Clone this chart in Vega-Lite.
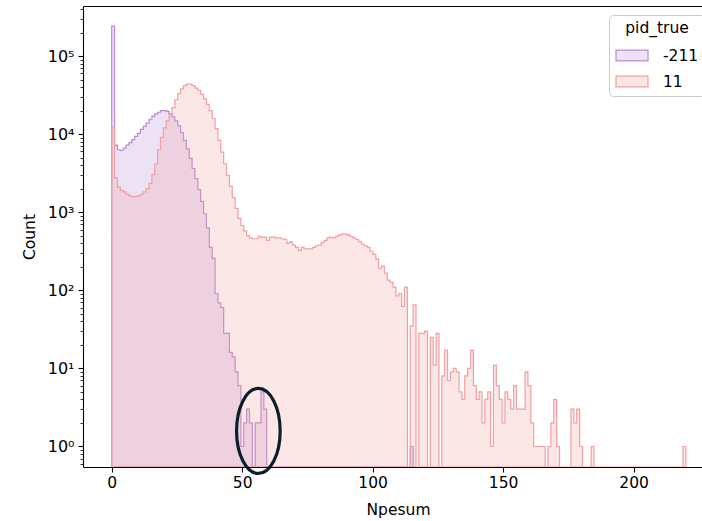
{
  "$schema": "https://vega.github.io/schema/vega-lite/v6.json",
  "width": 619,
  "height": 461,
  "autosize": {"type": "none"},
  "padding": {"left": 83, "top": 6, "right": 0, "bottom": 54},
  "background": "white",
  "config": {
    "font": "DejaVu Sans",
    "view": {"stroke": null}
  },
  "datasets": {
    "hist": [
      {"g":"-211","x":0,"n":241000},{"g":"-211","x":1.1,"n":7240},{"g":"-211","x":2.2,"n":6310},{"g":"-211","x":3.3,"n":6170},{"g":"-211","x":4.4,"n":6610},{"g":"-211","x":5.5,"n":7240},{"g":"-211","x":6.6,"n":7760},{"g":"-211","x":7.7,"n":8510},{"g":"-211","x":8.8,"n":9330},{"g":"-211","x":9.9,"n":10230},
      {"g":"-211","x":11,"n":11480},{"g":"-211","x":12.1,"n":12590},{"g":"-211","x":13.2,"n":13800},{"g":"-211","x":14.3,"n":15490},{"g":"-211","x":15.4,"n":16980},{"g":"-211","x":16.5,"n":18200},{"g":"-211","x":17.6,"n":19050},{"g":"-211","x":18.7,"n":19950},{"g":"-211","x":19.8,"n":19950},{"g":"-211","x":20.9,"n":19500},
      {"g":"-211","x":22,"n":18200},{"g":"-211","x":23.1,"n":16600},{"g":"-211","x":24.2,"n":14790},{"g":"-211","x":25.3,"n":12880},{"g":"-211","x":26.4,"n":10470},{"g":"-211","x":27.5,"n":8320},{"g":"-211","x":28.6,"n":6460},{"g":"-211","x":29.7,"n":4900},{"g":"-211","x":30.8,"n":3630},{"g":"-211","x":31.9,"n":2690},
      {"g":"-211","x":33,"n":1950},{"g":"-211","x":34.1,"n":1380},{"g":"-211","x":35.2,"n":955},{"g":"-211","x":36.3,"n":631},{"g":"-211","x":37.4,"n":355},{"g":"-211","x":38.5,"n":257},{"g":"-211","x":39.6,"n":91},{"g":"-211","x":40.7,"n":69},{"g":"-211","x":41.8,"n":60},{"g":"-211","x":42.9,"n":28},
      {"g":"-211","x":44,"n":28},{"g":"-211","x":45.1,"n":16},{"g":"-211","x":46.2,"n":14},{"g":"-211","x":47.3,"n":9},{"g":"-211","x":48.4,"n":6},{"g":"-211","x":49.5,"n":1},{"g":"-211","x":50.6,"n":2},{"g":"-211","x":51.7,"n":3},{"g":"-211","x":52.8,"n":2},{"g":"-211","x":53.9,"n":0},
      {"g":"-211","x":55,"n":2},{"g":"-211","x":56.1,"n":2},{"g":"-211","x":57.2,"n":5},{"g":"-211","x":58.3,"n":3},{"g":"-211","x":59.4,"n":0},{"g":"-211","x":114.4,"n":1},{"g":"-211","x":115.5,"n":0},
      {"g":"11","x":0,"n":12300},{"g":"11","x":1.1,"n":2750},{"g":"11","x":2.2,"n":2090},{"g":"11","x":3.3,"n":1900},{"g":"11","x":4.4,"n":1820},{"g":"11","x":5.5,"n":1700},{"g":"11","x":6.6,"n":1620},{"g":"11","x":7.7,"n":1585},{"g":"11","x":8.8,"n":1585},{"g":"11","x":9.9,"n":1620},
      {"g":"11","x":11,"n":1700},{"g":"11","x":12.1,"n":1820},{"g":"11","x":13.2,"n":2000},{"g":"11","x":14.3,"n":2340},{"g":"11","x":15.4,"n":3020},{"g":"11","x":16.5,"n":4170},{"g":"11","x":17.6,"n":6310},{"g":"11","x":18.7,"n":9120},{"g":"11","x":19.8,"n":12020},{"g":"11","x":20.9,"n":14790},
      {"g":"11","x":22,"n":18200},{"g":"11","x":23.1,"n":21880},{"g":"11","x":24.2,"n":27540},{"g":"11","x":25.3,"n":33110},{"g":"11","x":26.4,"n":38020},{"g":"11","x":27.5,"n":41690},{"g":"11","x":28.6,"n":43650},{"g":"11","x":29.7,"n":43650},{"g":"11","x":30.8,"n":41690},{"g":"11","x":31.9,"n":38900},
      {"g":"11","x":33,"n":36310},{"g":"11","x":34.1,"n":32360},{"g":"11","x":35.2,"n":28180},{"g":"11","x":36.3,"n":23990},{"g":"11","x":37.4,"n":19950},{"g":"11","x":38.5,"n":15850},{"g":"11","x":39.6,"n":11750},{"g":"11","x":40.7,"n":8320},{"g":"11","x":41.8,"n":5890},{"g":"11","x":42.9,"n":4170},
      {"g":"11","x":44,"n":2950},{"g":"11","x":45.1,"n":2140},{"g":"11","x":46.2,"n":1550},{"g":"11","x":47.3,"n":1120},{"g":"11","x":48.4,"n":832},{"g":"11","x":49.5,"n":676},{"g":"11","x":50.6,"n":575},{"g":"11","x":51.7,"n":501},{"g":"11","x":52.8,"n":468},{"g":"11","x":53.9,"n":457},
      {"g":"11","x":55,"n":457},{"g":"11","x":56.1,"n":490},{"g":"11","x":57.2,"n":479},{"g":"11","x":58.3,"n":479},{"g":"11","x":59.4,"n":437},{"g":"11","x":60.5,"n":479},{"g":"11","x":61.6,"n":479},{"g":"11","x":62.7,"n":468},{"g":"11","x":63.8,"n":468},{"g":"11","x":64.9,"n":457},
      {"g":"11","x":66,"n":447},{"g":"11","x":67.1,"n":398},{"g":"11","x":68.2,"n":417},{"g":"11","x":69.3,"n":380},{"g":"11","x":70.4,"n":355},{"g":"11","x":71.5,"n":324},{"g":"11","x":72.6,"n":355},{"g":"11","x":73.7,"n":339},{"g":"11","x":74.8,"n":339},{"g":"11","x":75.9,"n":339},
      {"g":"11","x":77,"n":355},{"g":"11","x":78.1,"n":372},{"g":"11","x":79.2,"n":380},{"g":"11","x":80.3,"n":407},{"g":"11","x":81.4,"n":437},{"g":"11","x":82.5,"n":468},{"g":"11","x":83.6,"n":479},{"g":"11","x":84.7,"n":468},{"g":"11","x":85.8,"n":490},{"g":"11","x":86.9,"n":513},
      {"g":"11","x":88,"n":525},{"g":"11","x":89.1,"n":525},{"g":"11","x":90.2,"n":513},{"g":"11","x":91.3,"n":490},{"g":"11","x":92.4,"n":468},{"g":"11","x":93.5,"n":447},{"g":"11","x":94.6,"n":417},{"g":"11","x":95.7,"n":389},{"g":"11","x":96.8,"n":372},{"g":"11","x":97.9,"n":355},
      {"g":"11","x":99,"n":316},{"g":"11","x":100.1,"n":288},{"g":"11","x":101.2,"n":251},{"g":"11","x":102.3,"n":191},{"g":"11","x":103.4,"n":204},{"g":"11","x":104.5,"n":166},{"g":"11","x":105.6,"n":135},{"g":"11","x":106.7,"n":126},{"g":"11","x":107.8,"n":110},{"g":"11","x":108.9,"n":85},
      {"g":"11","x":110,"n":91},{"g":"11","x":111.1,"n":62},{"g":"11","x":112.2,"n":110},{"g":"11","x":113.3,"n":0},{"g":"11","x":114.4,"n":35},{"g":"11","x":115.5,"n":65},{"g":"11","x":116.6,"n":0},{"g":"11","x":117.7,"n":28},{"g":"11","x":118.8,"n":28},{"g":"11","x":119.9,"n":30},
      {"g":"11","x":121,"n":0},{"g":"11","x":122.1,"n":25},{"g":"11","x":123.2,"n":11},{"g":"11","x":124.3,"n":28},{"g":"11","x":125.4,"n":0},{"g":"11","x":126.5,"n":8},{"g":"11","x":127.6,"n":17},{"g":"11","x":128.7,"n":7},{"g":"11","x":129.8,"n":9},{"g":"11","x":130.9,"n":10},
      {"g":"11","x":132,"n":9},{"g":"11","x":133.1,"n":5},{"g":"11","x":134.2,"n":4},{"g":"11","x":135.3,"n":8},{"g":"11","x":136.4,"n":10},{"g":"11","x":137.5,"n":17},{"g":"11","x":138.6,"n":6},{"g":"11","x":139.7,"n":4},{"g":"11","x":140.8,"n":5},{"g":"11","x":141.9,"n":2},
      {"g":"11","x":143,"n":4},{"g":"11","x":144.1,"n":5},{"g":"11","x":145.2,"n":1},{"g":"11","x":146.3,"n":11},{"g":"11","x":147.4,"n":6},{"g":"11","x":148.5,"n":4},{"g":"11","x":149.6,"n":2},{"g":"11","x":150.7,"n":5},{"g":"11","x":151.8,"n":4},{"g":"11","x":152.9,"n":3},
      {"g":"11","x":154,"n":6},{"g":"11","x":155.1,"n":3},{"g":"11","x":156.2,"n":3},{"g":"11","x":157.3,"n":3},{"g":"11","x":158.4,"n":9},{"g":"11","x":159.5,"n":6},{"g":"11","x":160.6,"n":2},{"g":"11","x":161.7,"n":1},{"g":"11","x":162.8,"n":1},{"g":"11","x":163.9,"n":1},
      {"g":"11","x":165,"n":1},{"g":"11","x":166.1,"n":0},{"g":"11","x":167.2,"n":1},{"g":"11","x":168.3,"n":2},{"g":"11","x":169.4,"n":4},{"g":"11","x":170.5,"n":1},{"g":"11","x":171.6,"n":0},{"g":"11","x":172.7,"n":0},{"g":"11","x":173.8,"n":0},{"g":"11","x":174.9,"n":0},
      {"g":"11","x":176,"n":3},{"g":"11","x":177.1,"n":2},{"g":"11","x":178.2,"n":3},{"g":"11","x":179.3,"n":1},{"g":"11","x":180.4,"n":0},{"g":"11","x":181.5,"n":0},{"g":"11","x":182.6,"n":0},{"g":"11","x":183.7,"n":1},{"g":"11","x":184.8,"n":0},
      {"g":"11","x":218.9,"n":1},{"g":"11","x":220,"n":0}
    ],
    "note": [{"x": 56.2, "n": 1.58}]
  },
  "encoding": {
    "y": {
      "field": "n",
      "type": "quantitative",
      "scale": {"type": "log", "domain": [0.546, 437000], "clamp": true, "nice": false},
      "axis": {
        "title": "Count",
        "titleFontSize": 15.5,
        "titleFontWeight": "normal",
        "titleColor": "#000",
        "titlePadding": 10,
        "values": [0.6,0.7,0.8,0.9,1,2,3,4,5,6,7,8,9,10,20,30,40,50,60,70,80,90,100,200,300,400,500,600,700,800,900,1000,2000,3000,4000,5000,6000,7000,8000,9000,10000,20000,30000,40000,50000,60000,70000,80000,90000,100000,200000,300000,400000],
        "labelExpr": "datum.value == 1 ? '10⁰' : datum.value == 10 ? '10¹' : datum.value == 100 ? '10²' : datum.value == 1000 ? '10³' : datum.value == 10000 ? '10⁴' : datum.value == 100000 ? '10⁵' : ''",
        "labelFontSize": 16,
        "labelColor": "#000",
        "labelPadding": 4,
        "labelOverlap": false,
        "labelBound": false,
        "labelFlush": false,
        "grid": false,
        "domainColor": "#000",
        "domainWidth": 1.1,
        "tickColor": "#000",
        "tickSize": {"condition": {"test": "indexof([1,10,100,1000,10000,100000], datum.value) >= 0", "value": 5}, "value": 3},
        "tickWidth": {"condition": {"test": "indexof([1,10,100,1000,10000,100000], datum.value) >= 0", "value": 1.1}, "value": 0.8},
        "zindex": 1
      }
    }
  },
  "layer": [
    {
      "data": {"name": "hist"},
      "transform": [{"filter": "datum.g == '-211'"}],
      "mark": {"type": "area", "interpolate": "step-after", "fillOpacity": 0.25, "strokeWidth": 1.2, "clip": true, "invalid": "show"},
      "encoding": {
        "x": {
          "field": "x",
          "type": "quantitative",
          "scale": {"domain": [-11, 226.2], "nice": false, "zero": false},
          "axis": {
            "orient": "bottom",
            "values": [0, 50, 100, 150, 200],
            "format": "d",
            "title": "Npesum",
            "titleX": 315,
            "titleFontSize": 15.5,
            "titleFontWeight": "normal",
            "titleColor": "#000",
            "titlePadding": 12,
            "labelFontSize": 15.5,
            "labelColor": "#000",
            "labelPadding": 3,
            "labelFlush": false,
            "grid": false,
            "domainColor": "#000",
            "domainWidth": 1.1,
            "tickColor": "#000",
            "tickSize": 5,
            "tickWidth": 1.1,
            "zindex": 1
          }
        },
        "color": {
          "field": "g",
          "type": "nominal",
          "scale": {"domain": ["-211", "11"], "range": ["#b88cd2", "#f2a0a0"]},
          "legend": {
            "title": "pid_true",
            "orient": "none",
            "legendX": 526,
            "legendY": 9,
            "padding": 6,
            "strokeColor": "#cccccc",
            "cornerRadius": 4,
            "fillColor": "rgba(255,255,255,0.8)",
            "titleFontSize": 15.5,
            "titleFontWeight": "normal",
            "titleColor": "#000",
            "titleAnchor": "middle",
            "titlePadding": 2,
            "labelFontSize": 15.5,
            "labelColor": "#000",
            "labelOffset": 14,
            "symbolType": "M-1,-0.34H1V0.34H-1Z",
            "symbolSize": 1024,
            "rowPadding": -6,
            "symbolStrokeWidth": 1.2,
            "encode": {"symbols": {"update": {"fillOpacity": {"value": 0.25}, "stroke": {"scale": "color", "field": "value"}, "strokeWidth": {"value": 1.2}}}}
          }
        },
        "stroke": {
          "field": "g",
          "type": "nominal",
          "scale": {"domain": ["-211", "11"], "range": ["#b88cd2", "#f2a0a0"]},
          "legend": null
        }
      }
    },
    {
      "data": {"name": "hist"},
      "transform": [{"filter": "datum.g == '11'"}],
      "mark": {"type": "area", "interpolate": "step-after", "fillOpacity": 0.25, "strokeWidth": 1.2, "clip": true, "invalid": "show"},
      "encoding": {
        "x": {
          "field": "x",
          "type": "quantitative",
          "scale": {"domain": [-11, 226.2], "nice": false, "zero": false},
          "axis": {
            "orient": "top",
            "labels": false,
            "ticks": false,
            "title": null,
            "grid": false,
            "domainColor": "#000",
            "domainWidth": 1.1,
            "zindex": 1
          }
        },
        "color": {"field": "g", "type": "nominal"},
        "stroke": {"field": "g", "type": "nominal", "legend": null}
      }
    },
    {
      "data": {"name": "note"},
      "mark": {
        "type": "point",
        "filled": false,
        "shape": "M0,-1A0.513,1 0 1,1 0,1A0.513,1 0 1,1 0,-1Z",
        "size": 7225,
        "strokeWidth": 3.2,
        "opacity": 1,
        "clip": false
      },
      "encoding": {
        "x": {"field": "x", "type": "quantitative", "scale": {"domain": [-11, 226.2], "nice": false, "zero": false}, "axis": null},
        "color": {"value": "#0c1d2b"}
      }
    }
  ],
  "resolve": {"axis": {"x": "independent"}}
}
